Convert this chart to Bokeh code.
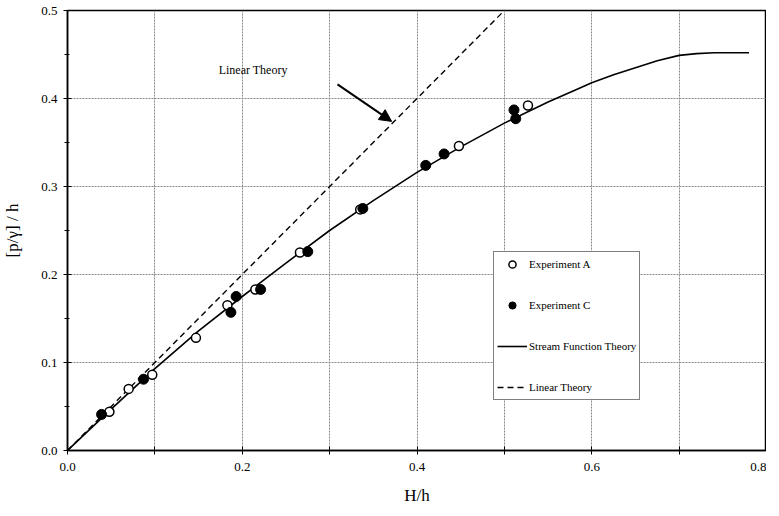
from bokeh.plotting import figure
from bokeh.models import (Range1d, FixedTicker, Legend, LegendItem, Arrow, NormalHead,
                          Label)
from bokeh.embed import file_html
from bokeh.resources import INLINE

# ---- data ----
exp_a_x = [0.048, 0.070, 0.097, 0.147, 0.183, 0.215, 0.266, 0.335, 0.448, 0.527]
exp_a_y = [0.044, 0.070, 0.086, 0.128, 0.165, 0.183, 0.225, 0.274, 0.346, 0.392]

exp_c_x = [0.039, 0.087, 0.187, 0.193, 0.221, 0.275, 0.338, 0.410, 0.431, 0.511, 0.513]
exp_c_y = [0.041, 0.081, 0.157, 0.175, 0.183, 0.226, 0.275, 0.324, 0.337, 0.387, 0.377]

stream_x = [0.0, 0.05, 0.10, 0.15, 0.20, 0.25, 0.30, 0.35, 0.40, 0.45, 0.50, 0.55,
            0.58, 0.60, 0.625, 0.65, 0.675, 0.70, 0.72, 0.74, 0.78]
stream_y = [0.0, 0.047, 0.093, 0.136, 0.175, 0.213, 0.250, 0.284, 0.316, 0.345, 0.372, 0.396,
            0.409, 0.418, 0.427, 0.435, 0.443, 0.449, 0.451, 0.452, 0.452]

linear_x = [0.0, 0.5]
linear_y = [0.0, 0.5]

x_ticks = [0.0, 0.1, 0.2, 0.3, 0.4, 0.5, 0.6, 0.7, 0.8]
x_tick_labels = {0.0: "0.0", 0.1: "", 0.2: "0.2", 0.3: "", 0.4: "0.4", 0.5: "", 0.6: "0.6", 0.7: "", 0.8: "0.8"}
y_ticks = [0.0, 0.1, 0.2, 0.3, 0.4, 0.5]
y_minor = [0.05, 0.15, 0.25, 0.35, 0.45]

annot_text = "Linear Theory"
annot_pos = (0.173, 0.432)
arrow_start = (0.309, 0.416)
arrow_end = (0.371, 0.374)

FONT = "Liberation Serif"

p = figure(width=766, height=507, output_backend="svg", toolbar_location=None,
           x_range=Range1d(0, 0.8), y_range=Range1d(0, 0.5),
           min_border_left=64, min_border_right=0, min_border_top=10, min_border_bottom=55)

p.outline_line_color = "black"
p.outline_line_width = 1.5
p.background_fill_color = "white"

for ax in (p.xaxis[0], p.yaxis[0]):
    ax.axis_line_color = "black"
    ax.axis_line_width = 1.5
    ax.major_tick_line_color = "black"
    ax.minor_tick_line_color = "black"
    ax.major_tick_in = 4
    ax.major_tick_out = 4
    ax.minor_tick_in = 2
    ax.minor_tick_out = 3
    ax.major_label_text_font = FONT
    ax.major_label_text_font_size = "13px"
    ax.major_label_text_color = "black"
    ax.axis_label_text_font = FONT
    ax.axis_label_text_font_size = "17px"
    ax.axis_label_text_font_style = "normal"
    ax.axis_label_text_color = "black"

p.xaxis.ticker = FixedTicker(ticks=x_ticks, minor_ticks=[])
p.xaxis.major_label_overrides = x_tick_labels
p.xaxis.axis_label = "H/h"
p.xaxis.axis_label_standoff = 12
p.xaxis.major_label_standoff = 8

p.yaxis.ticker = FixedTicker(ticks=y_ticks, minor_ticks=y_minor)
p.yaxis.major_label_overrides = {t: f"{t:.1f}" for t in y_ticks}
p.yaxis.axis_label = "[p/γ] / h"
p.yaxis.axis_label_standoff = 16
p.yaxis.major_label_standoff = 6

p.xgrid.ticker = FixedTicker(ticks=x_ticks)
p.ygrid.ticker = FixedTicker(ticks=y_ticks)
for g in (p.xgrid[0], p.ygrid[0]):
    g.grid_line_color = "#8a8a8a"
    g.grid_line_width = 1
    g.grid_line_dash = "2 1"

r_stream = p.line(stream_x, stream_y, line_color="black", line_width=1.6)
r_linear = p.line(linear_x, linear_y, line_color="black", line_width=1.4, line_dash="6 4")
r_a = p.scatter(exp_a_x, exp_a_y, marker="circle", size=9, fill_color="white",
                line_color="black", line_width=1.5)
r_c = p.scatter(exp_c_x, exp_c_y, marker="circle", size=10, fill_color="black",
                line_color="black", line_width=1)

p.add_layout(Arrow(end=NormalHead(size=12, fill_color="black", line_color="black"),
                   x_start=arrow_start[0], y_start=arrow_start[1],
                   x_end=arrow_end[0], y_end=arrow_end[1],
                   line_color="black", line_width=2))
p.add_layout(Label(x=annot_pos[0], y=annot_pos[1], text=annot_text,
                   text_font=FONT, text_font_size="12px", text_color="black",
                   text_baseline="middle"))

legend = Legend(items=[
    LegendItem(label="Experiment A", renderers=[r_a]),
    LegendItem(label="Experiment C", renderers=[r_c]),
    LegendItem(label="Stream Function Theory", renderers=[r_stream]),
    LegendItem(label="Linear Theory", renderers=[r_linear]),
], location=(426, 50))
legend.label_text_font = FONT
legend.label_text_font_size = "11px"
legend.label_text_color = "black"
legend.border_line_color = "black"
legend.border_line_width = 1.2
legend.background_fill_alpha = 1.0
legend.padding = 3
legend.margin = 0
legend.spacing = 23
legend.glyph_width = 30
legend.glyph_height = 18
legend.label_height = 18
legend.label_standoff = 2
p.add_layout(legend)

open("out.html", "w").write(file_html(p, INLINE))
